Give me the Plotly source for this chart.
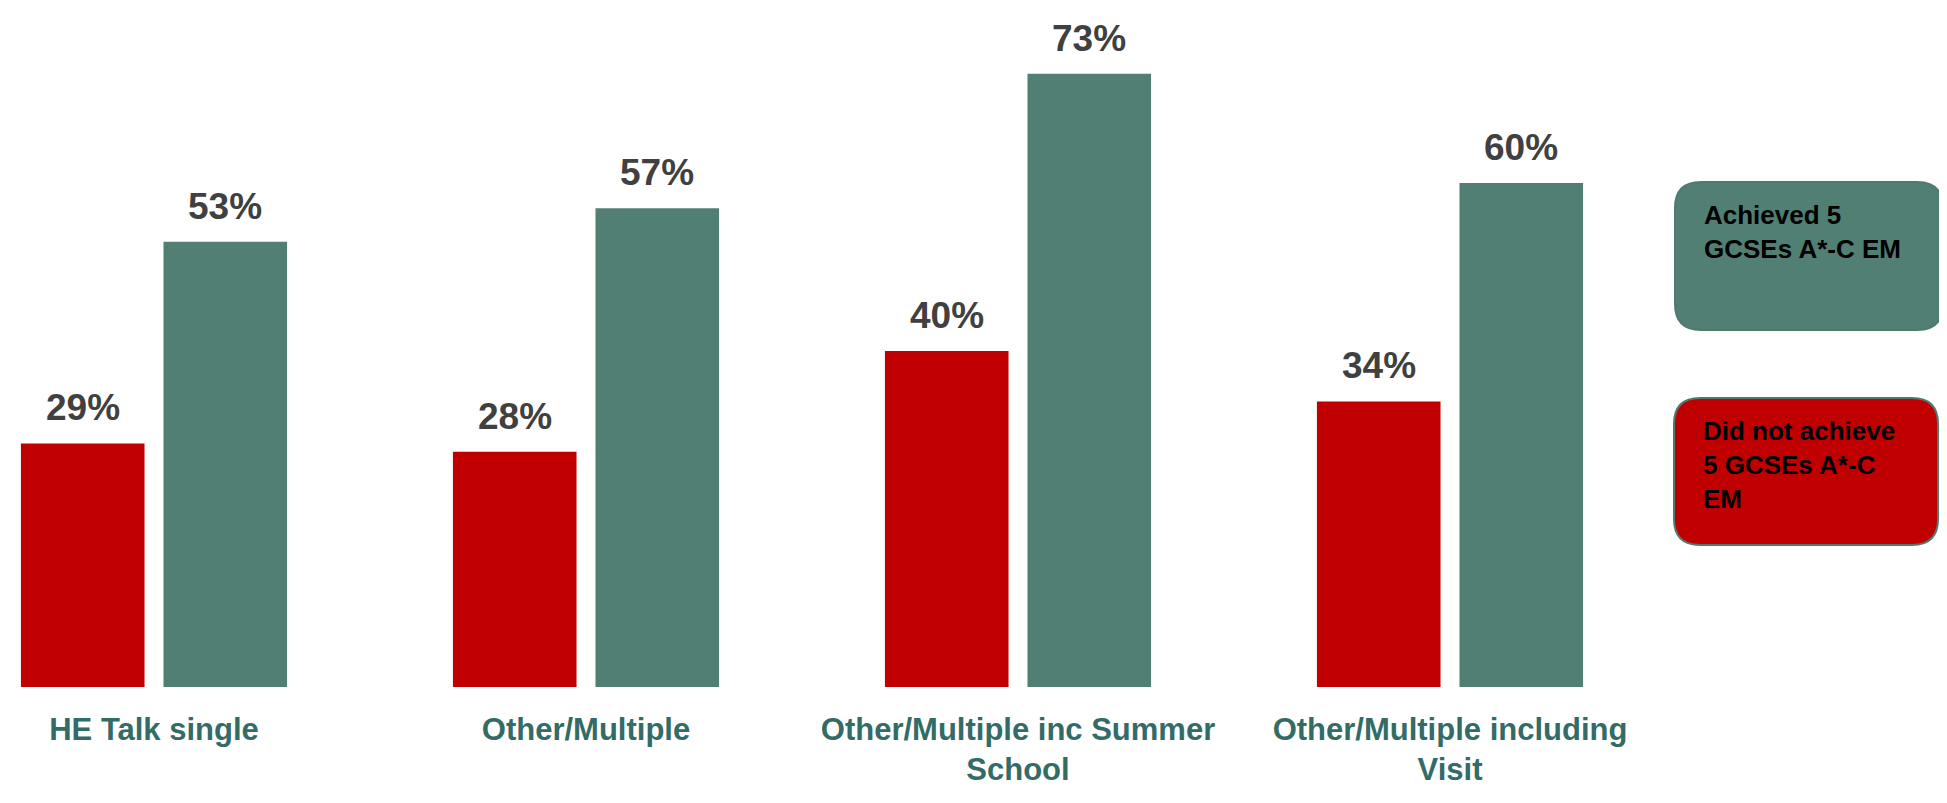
import plotly.graph_objects as go

categories = ["HE Talk single", "Other/Multiple", "Other/Multiple inc Summer<br>School", "Other/Multiple including<br>Visit"]
not_achieved = [29, 28, 40, 34]
achieved = [53, 57, 73, 60]
series_names = ["Did not achieve 5 GCSEs A*-C EM", "Achieved 5 GCSEs A*-C EM"]
legend_texts = ["Achieved 5<br>GCSEs A*-C EM", "Did not achieve<br>5 GCSEs A*-C<br>EM"]

RED = "#C00000"
GREEN = "#527F74"
LABEL = "#404040"
CAT = "#336B67"

OFF = 8  # page body margin
W, H = 1947 - OFF, 803 - OFF
B = 116
PH = H - B
x_idx = list(range(len(categories)))
bargap = 0.34
bargroupgap = 0.133
slot = (1 - bargap) / 2
x0c = 154 - OFF

fig = go.Figure()
fig.add_trace(go.Bar(x=x_idx, y=not_achieved, name=series_names[0], marker=dict(color=RED, line=dict(width=0))))
fig.add_trace(go.Bar(x=x_idx, y=achieved, name=series_names[1], marker=dict(color=GREEN, line=dict(width=0))))

for ti, vals in enumerate([not_achieved, achieved]):
    for i, v in enumerate(vals):
        fig.add_annotation(x=i + (ti - 0.5) * slot, y=v, xref="x", yref="y", text=f"{v}%",
                           showarrow=False, yanchor="bottom", yshift=13,
                           font=dict(family="Liberation Sans, Arial", size=37, color=LABEL, weight="bold"))

def px(x):
    return (x - OFF) / W
def py(y):
    return (PH - (y - OFF)) / PH

def rrect(x0, y0, x1, y1, r):
    return (f"M {px(x0 + r)} {py(y0)} L {px(x1 - r)} {py(y0)} "
            f"Q {px(x1)} {py(y0)} {px(x1)} {py(y0 + r)} L {px(x1)} {py(y1 - r)} "
            f"Q {px(x1)} {py(y1)} {px(x1 - r)} {py(y1)} L {px(x0 + r)} {py(y1)} "
            f"Q {px(x0)} {py(y1)} {px(x0)} {py(y1 - r)} L {px(x0)} {py(y0 + r)} "
            f"Q {px(x0)} {py(y0)} {px(x0 + r)} {py(y0)} Z")

boxes = [(1675, 182, 1943, 330, GREEN), (1674, 398, 1938, 545, RED)]
for (bx0, by0, bx1, by1, c), t in zip(boxes, legend_texts):
    fig.add_shape(type="path", path=rrect(bx0, by0, bx1, by1, 26), xref="paper", yref="paper",
                  fillcolor=c, line=dict(color="#4E7A70", width=2), layer="above")
    fig.add_annotation(x=px(bx0 + 27), y=py(by0 + 16), xref="paper", yref="paper", text=t,
                       showarrow=False, xanchor="left", yanchor="top", align="left",
                       font=dict(family="Liberation Sans, Arial", size=26, color="#000000", weight="bold"))

fig.update_layout(
    width=W, height=H,
    margin=dict(l=0, r=0, t=0, b=B),
    barmode="group", bargap=bargap, bargroupgap=bargroupgap,
    plot_bgcolor="white", paper_bgcolor="white",
    showlegend=False,
    xaxis=dict(range=[-x0c / 432, (W - x0c) / 432], tickmode="array", tickvals=x_idx, ticktext=categories,
               showgrid=False, zeroline=False, showline=False, ticks="", ticklabelstandoff=21,
               tickfont=dict(family="Liberation Sans, Arial", size=31, color=CAT, weight="bold")),
    yaxis=dict(range=[0, PH / 8.4], visible=False, showgrid=False, zeroline=False),
)

fig.write_html("out.html")
